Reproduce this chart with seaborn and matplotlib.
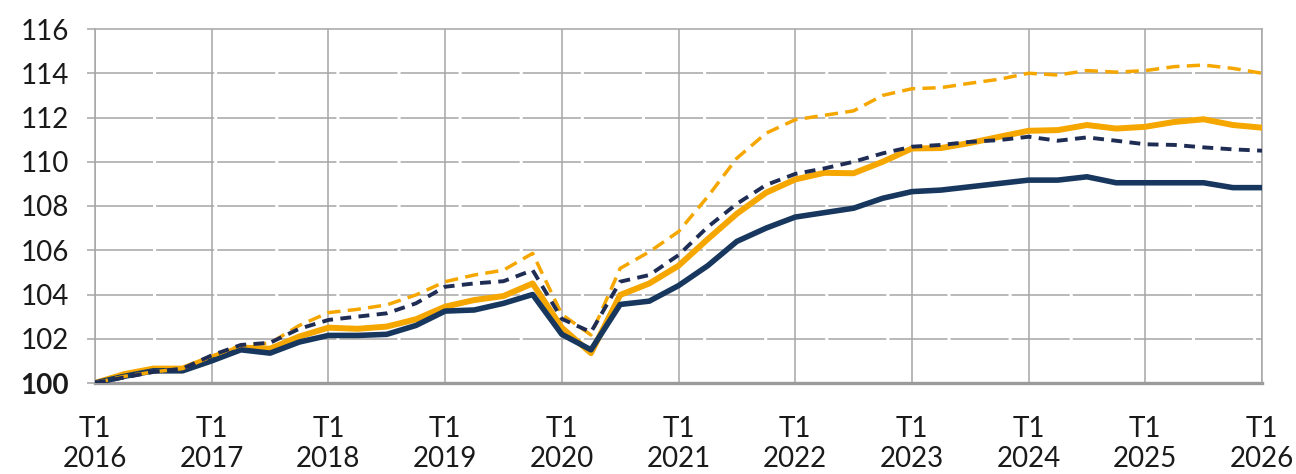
import pandas as pd
import matplotlib.pyplot as plt
import seaborn as sns

# quarterly index, T1 2016 = 100, up to T1 2026
years = [str(y) for y in range(2016, 2027)]
quarters = list(range(41))

navy_solid = [100.0, 100.3, 100.55, 100.55, 101.0, 101.5, 101.35, 101.85, 102.15, 102.15,
              102.2, 102.6, 103.25, 103.3, 103.6, 104.0, 102.2, 101.5, 103.55, 103.7,
              104.4, 105.3, 106.4, 107.0, 107.5, 107.7, 107.9, 108.35, 108.65, 108.72,
              108.87, 109.02, 109.17, 109.17, 109.32, 109.05, 109.05, 109.05, 109.05, 108.83,
              108.83]
orange_solid = [100.0, 100.4, 100.65, 100.65, 101.15, 101.6, 101.55, 102.1, 102.5, 102.45,
                102.55, 102.88, 103.45, 103.75, 103.93, 104.5, 102.5, 101.35, 103.98, 104.5,
                105.3, 106.5, 107.65, 108.6, 109.2, 109.5, 109.48, 110.0, 110.6, 110.62,
                110.85, 111.13, 111.4, 111.43, 111.66, 111.5, 111.58, 111.8, 111.92, 111.66,
                111.54]
navy_dashed = [100.0, 100.25, 100.5, 100.65, 101.25, 101.72, 101.82, 102.45, 102.85, 103.0,
               103.15, 103.6, 104.35, 104.5, 104.6, 105.1, 102.9, 102.3, 104.58, 104.88,
               105.78, 107.05, 108.1, 108.95, 109.45, 109.7, 110.0, 110.38, 110.68, 110.76,
               110.9, 110.98, 111.13, 110.95, 111.1, 110.95, 110.79, 110.76, 110.65, 110.56,
               110.5]
orange_dashed = [100.0, 100.3, 100.5, 100.65, 101.2, 101.7, 101.8, 102.6, 103.18, 103.33,
                 103.53, 103.98, 104.58, 104.88, 105.1, 105.86, 103.1, 102.17, 105.18, 105.93,
                 106.84, 108.42, 110.16, 111.29, 111.9, 112.1, 112.3, 113.0, 113.3, 113.35,
                 113.55, 113.73, 114.0, 113.92, 114.12, 114.05, 114.12, 114.3, 114.37, 114.22,
                 114.0]

df = pd.DataFrame({'q': quarters, 'navy': navy_solid, 'orange': orange_solid,
                   'navy_d': navy_dashed, 'orange_d': orange_dashed})

orange = '#F5A700'
navy = '#17375E'
navy2 = '#1F2D55'
grid_c = '#A6A6A6'

sns.set_style('white')
plt.rcParams['font.family'] = ['Lato', 'DejaVu Sans']

fig = plt.figure(figsize=(12.96, 4.74), dpi=100)
ax = fig.add_axes([95 / 1296, 1 - 383 / 474, (1262 - 95) / 1296, (383 - 29) / 474])

# horizontal dashed grid, vertical solid grid at T1
for v in range(102, 116, 2):
    ax.axhline(v, color=grid_c, lw=1.1, ls=(0, (38, 2)), zorder=1)
for q in range(0, 41, 4):
    ax.axvline(q, color=grid_c, lw=1.1, zorder=1)

sns.lineplot(data=df, x='q', y='orange', color=orange, lw=4.3, ax=ax, zorder=3)
sns.lineplot(data=df, x='q', y='navy', color=navy, lw=4.0, ax=ax, zorder=4)
sns.lineplot(data=df, x='q', y='orange_d', color=orange, lw=2.5, ax=ax, zorder=5,
             linestyle=(0, (3.8, 2.1)))
sns.lineplot(data=df, x='q', y='navy_d', color=navy2, lw=2.8, ax=ax, zorder=6,
             linestyle=(0, (2.8, 1.9)))

ax.set_xlim(0, 40)
ax.set_ylim(100, 116)
ax.set_xlabel('')
ax.set_ylabel('')

ax.set_xticks(range(0, 41, 4))
ax.set_xticklabels(['T1\n' + y for y in years])
ax.set_yticks(range(100, 117, 2))
ax.set_yticklabels([str(v) for v in range(100, 117, 2)])
ax.tick_params(axis='x', length=0, pad=24, labelsize=20, labelcolor='#1a1a1a')
ax.tick_params(axis='y', length=6, width=1.1, color=grid_c, pad=13, labelsize=20,
               labelcolor='#1a1a1a', left=True)
ax.get_yticklabels()[0].set_fontweight('bold')
for t in ax.get_xticklabels():
    t.set_linespacing(1.18)

for side in ['top', 'right', 'left']:
    ax.spines[side].set_visible(True)
    ax.spines[side].set_color(grid_c)
    ax.spines[side].set_linewidth(1.1)
ax.spines['bottom'].set_color('#9A9A9A')
ax.spines['bottom'].set_linewidth(2.4)
ax.spines['bottom'].set_zorder(2)

fig.savefig('out.png', dpi=100)
